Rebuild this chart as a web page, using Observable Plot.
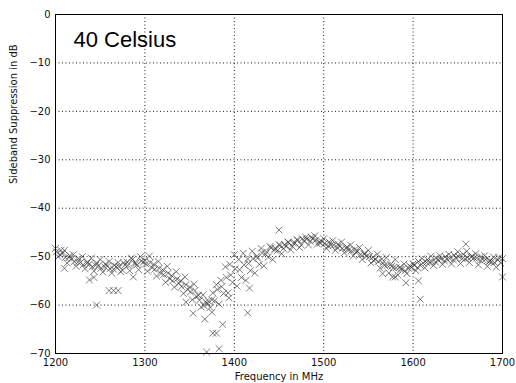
<!DOCTYPE html>
<html>
<head>
<meta charset="utf-8">
<script src="https://cdn.jsdelivr.net/npm/d3@7"></script>
<script src="https://cdn.jsdelivr.net/npm/@observablehq/plot@0.6"></script>
<style>
  html, body { margin: 0; padding: 0; background: #fff; }
  #chart { width: 516px; height: 383px; }
</style>
</head>
<body>
<div id="chart"></div>
<script>
// Sweep A
const freqA = [1200,1205,1210,1215,1220,1225,1230,1235,1240,1245,
  1250,1255,1260,1265,1270,1275,1280,1285,1290,1295,
  1300,1305,1310,1315,1320,1325,1330,1335,1340,1345,
  1350,1355,1360,1365,1370,1375,1380,1385,1390,1395,
  1400,1405,1410,1415,1420,1425,1430,1435,1440,1445,
  1450,1455,1460,1465,1470,1475,1480,1485,1490,1495,
  1500,1505,1510,1515,1520,1525,1530,1535,1540,1545,
  1550,1555,1560,1565,1570,1575,1580,1585,1590,1595,
  1600,1605,1610,1615,1620,1625,1630,1635,1640,1645,
  1650,1655,1660,1665,1670,1675,1680,1685,1690,1695,1700];
const dbA = [-48.3,-49.6,-48.7,-50.2,-49.6,-51.1,-50.0,-51.4,-50.3,-51.8,
  -50.6,-52.1,-51.0,-52.6,-51.2,-52.8,-51.1,-50.3,-51.4,-50.0,
  -50.8,-49.9,-51.6,-51.0,-52.7,-52.0,-53.9,-53.1,-55.0,-54.2,
  -56.3,-55.7,-58.0,-57.9,-59.8,-58.9,-55.8,-54.9,-52.1,-51.6,
  -49.6,-50.6,-49.3,-50.5,-48.9,-49.9,-48.3,-49.5,-47.9,-48.6,
  -47.5,-48.3,-47.0,-47.9,-46.5,-47.6,-46.0,-46.8,-45.7,-46.9,
  -46.3,-47.8,-46.7,-48.1,-47.0,-48.3,-47.6,-48.5,-48.1,-49.4,
  -48.7,-50.1,-49.5,-50.5,-50.2,-51.6,-50.6,-52.2,-51.5,-52.4,
  -51.5,-52.3,-50.4,-51.2,-49.9,-51.1,-49.8,-50.9,-49.5,-50.7,
  -49.0,-50.4,-48.9,-50.1,-49.4,-50.8,-49.8,-51.0,-50.1,-50.7,-50.4];

// Sweep B
const freqB = [1203,1208,1213,1218,1223,1228,1233,1238,1243,1248,
  1253,1258,1263,1268,1273,1278,1283,1288,1293,1298,
  1303,1308,1313,1318,1323,1328,1333,1338,1343,1348,
  1353,1358,1363,1368,1373,1378,1383,1388,1393,1398,
  1403,1408,1413,1418,1423,1428,1433,1438,1443,1448,
  1453,1458,1463,1468,1473,1478,1483,1488,1493,1498,
  1503,1508,1513,1518,1523,1528,1533,1538,1543,1548,
  1553,1558,1563,1568,1573,1578,1583,1588,1593,1598,
  1603,1608,1613,1618,1623,1628,1633,1638,1643,1648,
  1653,1658,1663,1668,1673,1678,1683,1688,1693,1698];
const dbB = [-50.0,-49.3,-51.3,-50.5,-52.0,-51.2,-52.5,-51.5,-53.0,-51.9,
  -53.2,-52.0,-53.4,-52.1,-53.1,-51.7,-52.9,-51.4,-52.7,-51.2,
  -53.0,-52.3,-54.0,-53.5,-55.3,-54.6,-56.3,-55.5,-57.6,-56.8,
  -58.9,-58.2,-60.4,-59.3,-60.5,-59.1,-59.8,-57.6,-57.5,-55.3,
  -56.1,-54.3,-54.9,-52.9,-53.4,-51.6,-51.9,-50.1,-50.6,-48.8,
  -49.4,-47.9,-48.6,-47.2,-48.1,-46.7,-47.6,-46.3,-47.4,-46.9,
  -48.3,-47.6,-48.7,-47.9,-49.2,-48.6,-49.8,-48.9,-50.6,-49.9,
  -51.3,-50.6,-52.4,-51.8,-53.4,-52.3,-53.8,-52.6,-53.5,-52.2,
  -52.9,-51.8,-52.3,-51.2,-51.8,-50.7,-51.6,-50.5,-51.5,-50.2,
  -51.4,-50.5,-51.2,-50.3,-51.7,-50.6,-52.0,-51.0,-52.2,-51.3];

// Sweep C
const freqC = [1201,1206,1211,1216,1221,1226,1231,1236,1241,1246,
  1251,1256,1261,1266,1271,1276,1281,1286,1291,1296,
  1301,1306,1311,1316,1321,1326,1331,1336,1341,1346,
  1351,1356,1361,1366,1371,1376,1381,1386,1391,1396,
  1401,1406,1411,1416,1421,1426,1431,1436,1441,1446,
  1451,1456,1461,1466,1471,1476,1481,1486,1491,1496,
  1501,1506,1511,1516,1521,1526,1531,1536,1541,1546,
  1551,1556,1561,1566,1571,1576,1581,1586,1591,1596,
  1601,1606,1611,1616,1621,1626,1631,1636,1641,1646,
  1651,1656,1661,1666,1671,1676,1681,1686,1691,1696];
const dbC = [-49.0,-48.7,-50.2,-49.8,-51.0,-50.4,-51.7,-51.2,-52.1,-51.3,
  -52.4,-51.5,-52.5,-51.8,-52.0,-51.3,-51.8,-50.6,-51.7,-50.9,
  -51.5,-51.2,-52.6,-52.4,-53.7,-53.4,-55.0,-54.6,-56.2,-55.8,
  -57.3,-57.0,-59.0,-60.1,-59.2,-57.5,-56.8,-56.2,-54.3,-53.8,
  -52.5,-52.7,-51.7,-51.4,-50.4,-50.3,-49.2,-49.0,-48.2,-48.3,
  -47.7,-47.5,-47.1,-47.2,-46.6,-46.3,-46.4,-46.0,-46.6,-47.2,
  -47.3,-47.0,-47.6,-47.4,-48.3,-48.0,-48.8,-49.1,-49.6,-49.4,
  -50.0,-50.8,-51.0,-51.3,-51.8,-52.0,-52.3,-52.6,-52.9,-51.9,
  -51.7,-51.0,-51.3,-50.6,-51.0,-50.3,-50.5,-50.0,-50.4,-49.7,
  -50.0,-49.5,-50.2,-49.9,-50.3,-50.0,-50.6,-50.9,-51.2,-50.2];

// Scattered outliers
const freqOut = [1210,1238,1243,1246,1260,1265,1270,1287,1346,1354,1367,1375,1387,1376,1380,
  1369,1383,1394,1415,1417,1450,1566,1577,1580,1592,1606,1608,1659,1700];
const dbOut = [-52.4,-54.8,-54.3,-60.0,-57.0,-57.0,-57.0,-54.2,-59.4,-61.7,-62.9,-61.5,-64.0,-65.8,-65.8,
  -69.7,-69.0,-58.5,-61.6,-56.5,-44.5,-53.5,-54.2,-54.2,-55.4,-55.0,-58.8,-47.4,-54.2];

const xTicks = [1200,1300,1400,1500,1600,1700];
const yTicks = [-70,-60,-50,-40,-30,-20,-10,0];
const title = "40 Celsius";
const xLabel = "Frequency in MHz";
const yLabel = "Sideband Suppression in dB";

const points = [
  ...freqA.map((f, i) => ({f, db: dbA[i]})),
  ...freqB.map((f, i) => ({f, db: dbB[i]})),
  ...freqC.map((f, i) => ({f, db: dbC[i]})),
  ...freqOut.map((f, i) => ({f, db: dbOut[i]}))
];

const chart = Plot.plot({
  width: 516,
  height: 383,
  marginLeft: 55,
  marginRight: 14,
  marginTop: 14,
  marginBottom: 30,
  style: {fontFamily: "DejaVu Sans", fontSize: "10px", color: "#111", background: "#fff"},
  x: {domain: [1200, 1700], ticks: xTicks, tickFormat: "d", tickSize: 0, tickPadding: 5, label: null},
  y: {domain: [-70, 0], ticks: yTicks, tickFormat: "d", tickSize: 0, tickPadding: 5, label: null},
  marks: [
    Plot.ruleX(xTicks.slice(1, -1), {stroke: "#000", strokeWidth: 0.9, strokeDasharray: "1,2.5"}),
    Plot.ruleY(yTicks.slice(1, -1), {stroke: "#000", strokeWidth: 0.9, strokeDasharray: "1,2.5"}),
    Plot.dot(points, {x: "f", y: "db", symbol: "times", r: 3.2, stroke: "#333", strokeWidth: 0.8, strokeOpacity: 0.8}),
    Plot.text([title], {frameAnchor: "top-left", dx: 18, dy: 25, lineAnchor: "middle", textAnchor: "start",
      fontFamily: "Liberation Sans", fontSize: 22, fill: "#000"}),
    Plot.text([xLabel], {frameAnchor: "bottom", dy: 23, lineAnchor: "middle", fontSize: 10, fill: "#111"}),
    Plot.text([yLabel], {frameAnchor: "left", dx: -42, rotate: -90, lineAnchor: "middle", fontSize: 10, fill: "#111"}),
    Plot.frame({stroke: "#000", strokeWidth: 1})
  ]
});
document.getElementById("chart").appendChild(chart);
</script>
</body>
</html>
